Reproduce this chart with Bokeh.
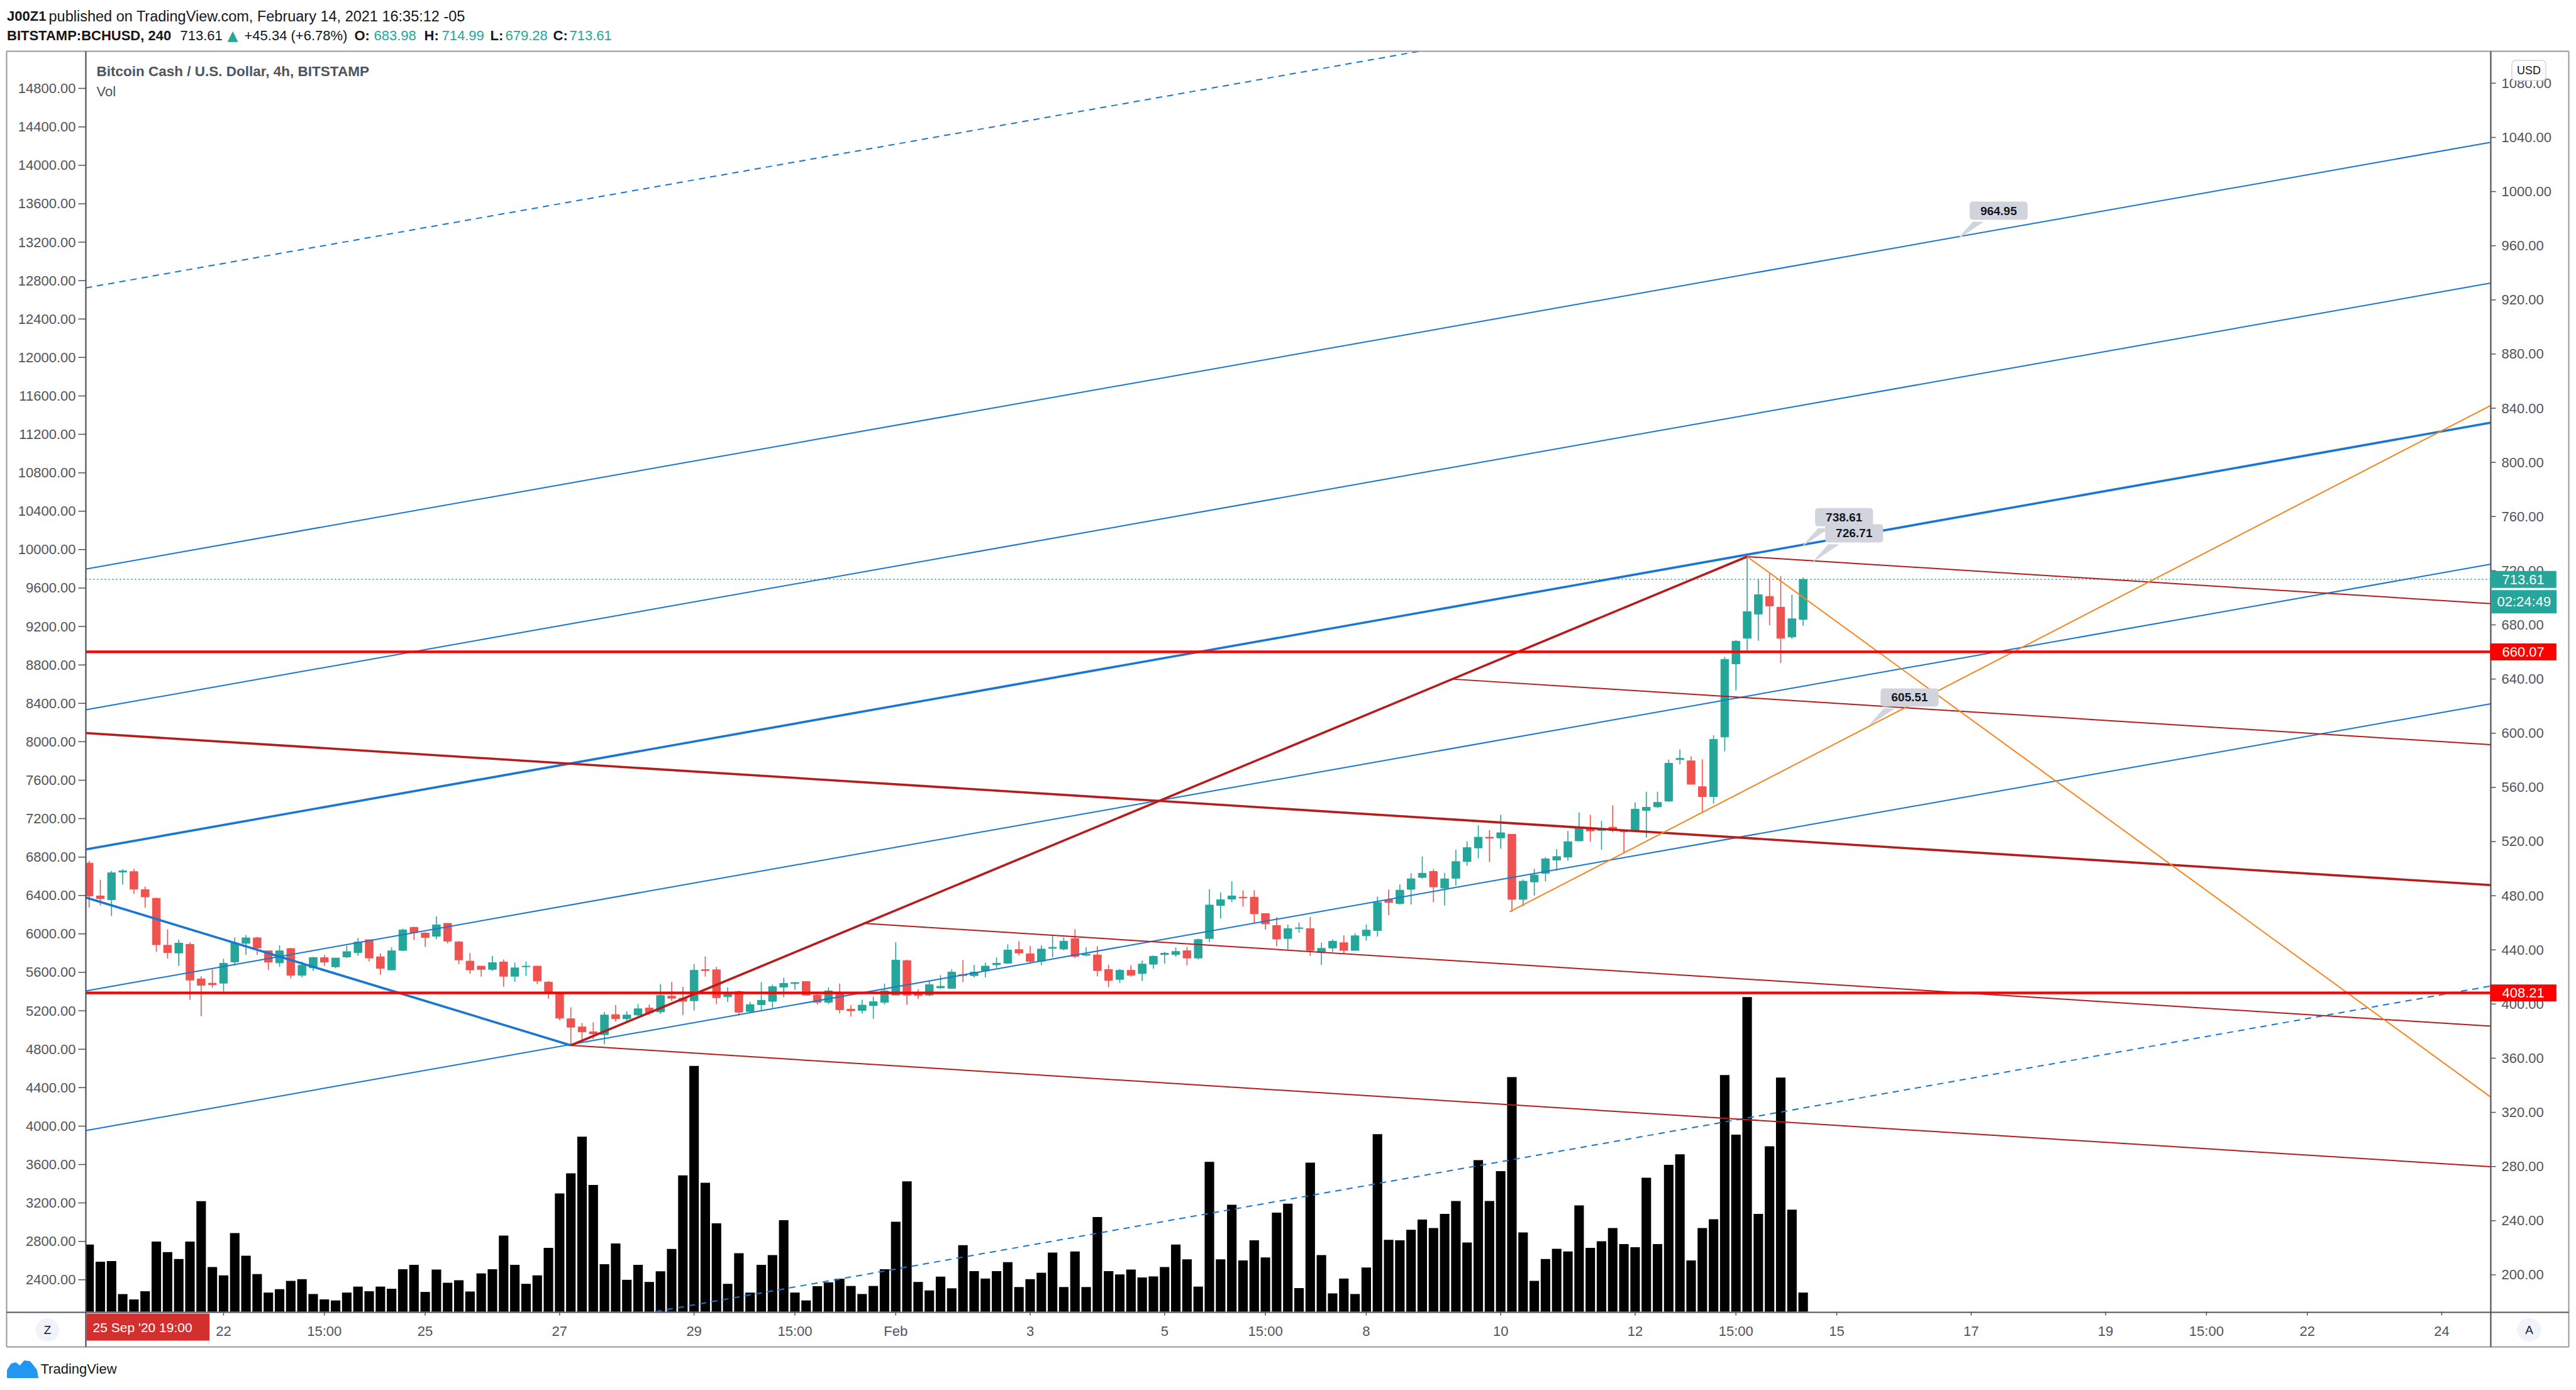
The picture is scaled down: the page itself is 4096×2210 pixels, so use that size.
from bokeh.plotting import figure
from bokeh.models import Range1d, Label
from bokeh.embed import file_html
from bokeh.resources import INLINE
from bokeh.core.properties import value

# ---------------- data (4h bars, BITSTAMP:BCHUSD, Jan 20 - Feb 14 2021) ----------------
opens = [
    504.1, 479.8, 477.0, 497.5, 497.8, 484.5, 478.1, 443.4, 437.7, 444.1,
    418.5, 415.4, 415.4, 431.1, 444.8, 448.9, 439.3, 430.4, 441.0, 421.3,
    426.7, 434.2, 427.5, 434.8, 437.9, 447.5, 434.9, 425.2, 439.6, 456.6,
    452.4, 450.1, 459.6, 445.9, 431.7, 428.0, 425.6, 431.1, 420.5, 427.5,
    428.0, 416.2, 408.0, 389.1, 383.1, 379.5, 377.4, 392.2, 389.1, 391.9,
    397.0, 394.2, 405.8, 404.3, 402.4, 425.4, 425.3, 405.4, 409.2, 394.5,
    399.5, 402.0, 412.5, 415.1, 416.6, 406.6, 401.2, 408.6, 396.2, 395.3,
    398.8, 401.2, 406.6, 432.1, 407.7, 406.6, 412.0, 411.5, 421.8, 421.0,
    424.4, 429.0, 430.1, 440.2, 437.1, 431.7, 441.1, 440.6, 448.4, 436.0,
    436.3, 425.5, 418.2, 424.9, 422.5, 429.4, 436.5, 436.5, 439.4, 434.0,
    448.4, 472.7, 477.5, 478.9, 478.9, 466.8, 458.0, 448.4, 455.8, 455.7,
    438.3, 441.4, 445.3, 439.6, 450.4, 454.3, 477.0, 474.2, 484.7, 493.5,
    497.9, 485.6, 492.9, 505.2, 515.3, 523.2, 522.7, 525.4, 477.3, 490.2,
    496.6, 506.3, 508.5, 520.5, 529.6, 528.2, 530.6, 528.4, 527.8, 542.9,
    545.6, 549.8, 580.5, 579.6, 560.5, 553.2, 597.2, 651.2, 670.1, 688.0,
    701.0, 693.1, 671.1, 683.98]
highs = [
    505.7, 491.8, 498.3, 499.5, 499.8, 486.8, 478.6, 455.1, 447.6, 445.6,
    420.5, 425.5, 433.4, 449.2, 451.0, 449.6, 439.3, 443.4, 441.4, 431.4,
    434.9, 436.3, 434.0, 443.0, 448.9, 447.5, 437.3, 441.9, 455.7, 457.2,
    453.0, 464.7, 459.6, 446.5, 437.6, 428.0, 435.6, 432.9, 430.6, 431.4,
    428.0, 417.0, 409.0, 397.6, 386.0, 386.5, 394.1, 399.2, 394.7, 399.9,
    399.6, 414.8, 416.3, 412.8, 429.6, 435.2, 427.5, 412.3, 410.0, 401.6,
    416.2, 414.3, 419.4, 416.2, 416.6, 407.4, 412.3, 415.1, 399.2, 403.2,
    405.5, 415.1, 445.6, 432.8, 410.9, 417.4, 421.3, 425.6, 432.4, 429.0,
    430.6, 434.4, 444.0, 446.4, 443.0, 443.4, 450.4, 449.2, 455.3, 441.8,
    442.7, 429.0, 426.0, 428.7, 432.1, 436.0, 438.6, 441.8, 442.2, 448.4,
    484.8, 482.4, 490.7, 484.0, 484.0, 467.0, 464.2, 458.7, 460.3, 464.2,
    445.3, 447.6, 450.7, 452.3, 458.8, 479.3, 484.6, 488.3, 496.6, 508.9,
    499.7, 496.9, 514.0, 520.1, 532.0, 528.4, 539.7, 525.4, 492.0, 499.9,
    508.5, 514.4, 527.8, 541.6, 539.7, 535.2, 546.7, 528.8, 548.9, 556.8,
    556.8, 580.5, 587.9, 582.9, 580.7, 598.5, 656.4, 668.8, 730.4, 713.3,
    717.9, 716.1, 702.3, 714.99]
lows = [
    471.2, 472.7, 465.0, 488.2, 481.4, 471.2, 438.6, 433.7, 428.1, 403.2,
    391.1, 412.0, 409.2, 428.3, 436.3, 436.3, 425.2, 427.5, 419.1, 419.8,
    424.4, 428.3, 426.4, 434.0, 435.6, 431.4, 421.6, 425.2, 439.1, 447.3,
    442.2, 447.9, 444.8, 429.4, 422.4, 420.2, 424.4, 412.8, 416.4, 420.8,
    414.8, 404.0, 388.0, 369.5, 373.0, 374.0, 370.3, 387.2, 387.6, 391.1,
    391.9, 392.7, 402.3, 391.9, 395.3, 420.3, 399.9, 401.5, 391.4, 393.1,
    395.0, 397.3, 405.0, 410.5, 406.3, 399.6, 399.9, 393.1, 390.6, 393.0,
    389.2, 399.6, 406.6, 399.3, 403.8, 405.8, 411.2, 411.5, 416.2, 419.7,
    419.7, 426.7, 429.8, 436.0, 429.8, 428.7, 434.5, 439.6, 434.0, 435.2,
    420.5, 412.5, 415.6, 420.2, 417.1, 426.0, 429.8, 434.9, 428.6, 432.9,
    445.8, 463.1, 475.2, 472.0, 460.0, 455.0, 442.6, 440.3, 452.6, 435.5,
    429.0, 438.6, 437.1, 439.6, 446.8, 449.9, 465.6, 473.3, 473.6, 492.6,
    475.1, 472.7, 487.4, 502.1, 507.6, 504.9, 514.6, 468.1, 472.2, 480.1,
    490.5, 498.4, 505.8, 520.1, 519.9, 514.0, 526.9, 511.3, 526.9, 522.9,
    544.9, 549.3, 577.0, 562.3, 541.2, 548.0, 586.6, 631.6, 660.4, 668.3,
    679.7, 651.8, 669.6, 679.28]
closes = [
    479.8, 477.8, 496.9, 498.3, 484.8, 479.1, 443.8, 438.0, 445.0, 417.7,
    413.9, 414.2, 430.1, 445.0, 448.9, 441.4, 430.9, 439.3, 421.3, 428.6,
    434.3, 430.9, 434.0, 438.7, 445.8, 434.0, 426.3, 439.3, 454.7, 452.7,
    449.2, 458.5, 446.5, 432.6, 425.2, 425.6, 430.6, 420.5, 426.7, 428.0,
    417.0, 408.0, 389.6, 382.9, 379.5, 378.0, 391.9, 389.1, 391.9, 396.5,
    393.7, 406.3, 404.3, 402.0, 424.9, 424.7, 404.7, 407.7, 394.0, 399.6,
    402.7, 412.8, 415.3, 415.9, 406.6, 401.2, 409.7, 395.8, 395.0, 399.2,
    401.7, 409.7, 432.4, 406.6, 406.3, 414.3, 413.1, 423.6, 421.0, 423.6,
    428.0, 430.1, 439.9, 437.7, 431.5, 440.6, 441.9, 446.4, 435.2, 436.8,
    424.7, 417.4, 424.9, 421.3, 429.5, 435.2, 437.5, 438.8, 434.0, 447.6,
    473.1, 477.0, 479.8, 478.3, 466.6, 459.2, 448.0, 455.7, 456.3, 439.6,
    441.1, 446.4, 439.6, 450.4, 454.6, 475.0, 475.0, 484.1, 492.5, 496.6,
    486.5, 492.5, 505.2, 515.5, 523.2, 522.5, 526.5, 477.3, 490.7, 495.3,
    507.2, 508.9, 519.9, 529.6, 527.8, 528.8, 528.2, 527.3, 543.9, 545.3,
    548.9, 577.8, 581.4, 562.3, 553.2, 595.4, 654.5, 667.9, 689.8, 702.3,
    694.0, 670.1, 684.5, 713.61]
volumes = [
    106.8, 79.4, 80.5, 28.1, 19.6, 32.5, 111.6, 94.7, 83.8, 111.6,
    175.8, 71.0, 57.8, 125.1, 88.9, 59.8, 30.4, 35.8, 49.0, 51.7,
    28.1, 19.6, 17.9, 30.4, 39.9, 32.5, 39.9, 36.5, 67.6, 74.4,
    31.4, 66.9, 46.0, 50.0, 32.1, 60.9, 67.6, 121.0, 74.4, 44.3,
    57.8, 101.4, 188.0, 220.1, 278.2, 201.5, 75.4, 108.5, 50.7, 74.4,
    47.3, 64.2, 99.7, 216.7, 390.8, 204.9, 140.6, 44.3, 93.0, 30.4,
    74.4, 89.9, 145.4, 30.4, 17.9, 40.6, 46.7, 52.4, 40.9, 28.1,
    40.9, 67.6, 143.0, 207.2, 47.3, 33.8, 55.8, 37.2, 105.8, 64.6,
    52.7, 64.6, 78.8, 39.2, 51.7, 61.9, 94.0, 39.2, 95.7, 39.2,
    150.4, 64.6, 59.2, 66.9, 54.4, 56.1, 71.0, 106.8, 83.2, 39.9,
    238.3, 83.2, 170.0, 81.5, 113.6, 86.2, 157.5, 171.7, 37.5, 237.0,
    89.9, 29.1, 52.7, 28.1, 70.3, 282.3, 114.3, 113.6, 130.2, 146.4,
    132.9, 155.5, 176.1, 109.9, 241.0, 176.1, 223.5, 372.9, 126.1, 49.0,
    83.8, 100.1, 95.7, 169.0, 101.4, 111.9, 132.9, 107.5, 102.4, 213.0,
    107.5, 233.6, 250.2, 81.5, 132.9, 147.1, 376.3, 281.6, 500.3, 155.5,
    263.0, 372.2, 162.3, 30.4]

# time axis (bar index -> label)
time_tick_bars = [12, 21, 30, 42, 54, 63, 72, 84, 96, 105, 114, 126, 138, 147, 156, 168, 180, 189, 198, 210]
time_tick_labels = ["22", "15:00", "25", "27", "29", "15:00", "Feb", "3", "5", "15:00",
                    "8", "10", "12", "15:00", "15", "17", "19", "15:00", "22", "24"]
price_ticks = list(range(200, 1081, 40))
left_ticks = list(range(2400, 14801, 400))

# drawings
channel_slope = 1.468                     # price per bar
channel_levels = [929.3, 721.7, 617.7, 514.6, 410.1, 307.0, 98.6]   # price at bar 0
down_line = ([-1, 43], [480.4, 369.5])
rise_line = ([43, 148], [369.5, 730.4])
red_slope = -0.523
red_anchor_x = [43, 69.3, 95.5, 121.6, 148]
red_anchor_p = [369.5, 459.5, 550.0, 640.0, 730.4]
orange_x = [148, 126.8]
orange_p = [730.4, 468.1]
orange_slope = [-6.013, 4.27]
hlevels = [660.07, 408.21]
callout_x = [166.8, 153.0, 153.9, 158.85]
callout_p = [964.95, 738.61, 726.71, 605.51]

# ---------------- styling / geometry ----------------
GREEN = "#26a69a"
RED = "#ef5350"
BLUE = "#1976d2"
DRED = "#b71c1c"
ORANGE = "#f7841d"
HRED = "#ff0000"
INK = "#131722"
AXC = "#50535e"
FONT = "Liberation Sans"

n = min(len(opens), len(highs), len(lows), len(closes), len(volumes))
bars = list(range(n))

CW, CH = 4090, 2200                  # canvas
AL, AR, AT, AB = 136, 3960, 81, 2085  # price pane in canvas px
X0, X1 = -0.292, 214.38              # visible bar range
P0, P1 = 172.8, 1103.6               # visible price range
L0, L1 = 2068.0, 15187.0             # left scale range
PXB = (AR - AL) / (X1 - X0)
PXP = (AB - AT) / (P1 - P0)
PXL = (AB - AT) / (L1 - L0)


def bx(px):
    return X0 + (px - AL) / PXB


def pp(py):
    return P0 + (AB - py) / PXP


def lp(py):
    return L0 + (AB - py) / PXL


def vp(py):
    return AB - py


p = figure(width=CW, height=CH, output_backend="svg", toolbar_location=None,
           x_range=Range1d(bx(0), bx(CW)), y_range=Range1d(pp(CH), pp(0)),
           x_axis_type=None, y_axis_type=None, min_border=0,
           min_border_left=0, min_border_right=0, min_border_top=0, min_border_bottom=0,
           background_fill_color="white", border_fill_color="white", outline_line_color=None)
p.extra_y_ranges = {"left": Range1d(lp(CH), lp(0)), "vol": Range1d(vp(CH), vp(0))}
p.xgrid.visible = False
p.ygrid.visible = False


def clip(xa, ya, xb, yb):
    dx, dy = xb - xa, yb - ya
    t0, t1 = 0.0, 1.0
    for q1, q2 in ((-dx, xa - X0), (dx, X1 - xa), (-dy, ya - P0), (dy, P1 - ya)):
        if q1 == 0:
            if q2 < 0:
                return None
        else:
            t = q2 / q1
            if q1 < 0:
                t0 = max(t0, t)
            else:
                t1 = min(t1, t)
    if t0 > t1:
        return None
    return [xa + t0 * dx, xa + t1 * dx], [ya + t0 * dy, ya + t1 * dy]


def draw(xa, ya, xb, yb, **kw):
    c = clip(xa, ya, xb, yb)
    if c:
        p.line(x=c[0], y=c[1], **kw)


def text(xs, ys, txt, size="22px", color=AXC, align="left", baseline="middle",
         style="normal", font=FONT, rng="default"):
    p.text(x=xs, y=ys, text=txt, text_font=value(font), text_font_size=size,
           text_color=color, text_align=align, text_baseline=baseline,
           text_font_style=style, y_range_name=rng)


# ---------------- volume ----------------
p.quad(left=[max(i - 0.425, X0) for i in bars], right=[i + 0.425 for i in bars],
       top=volumes[:n], bottom=[0] * n, y_range_name="vol",
       fill_color="black", line_color=None)

# ---------------- candles ----------------
cols = [GREEN if closes[i] >= opens[i] else RED for i in bars]
p.segment(x0=bars, y0=lows[:n], x1=bars, y1=highs[:n], line_color=cols, line_width=1.6)
p.quad(left=[max(i - 0.35, X0) for i in bars], right=[i + 0.35 for i in bars],
       bottom=[min(opens[i], closes[i]) for i in bars],
       top=[max(opens[i], closes[i]) for i in bars],
       fill_color=cols, line_color=cols, line_width=1)

# ---------------- drawings ----------------
XE = 260
draw(X0, closes[n - 1], X1, closes[n - 1], line_color=GREEN, line_width=1.6, line_dash="2 4")
for k, lvl in enumerate(channel_levels):
    dashed = k in (0, len(channel_levels) - 1)
    thick = k == 3
    draw(-40, lvl - 40 * channel_slope, XE, lvl + channel_slope * XE,
         line_color=BLUE, line_width=3.6 if thick else 2.0,
         line_dash="10 8" if dashed else "solid")
draw(down_line[0][0], down_line[1][0], down_line[0][1], down_line[1][1],
     line_color=BLUE, line_width=3.6)
for k, (ax_, ap_) in enumerate(zip(red_anchor_x, red_anchor_p)):
    xs = [-40, XE] if k == 2 else [ax_, XE]
    draw(xs[0], ap_ + red_slope * (xs[0] - ax_), xs[1], ap_ + red_slope * (xs[1] - ax_),
         line_color=DRED, line_width=3.6 if k == 2 else 2.0)
draw(rise_line[0][0], rise_line[1][0], rise_line[0][1], rise_line[1][1],
     line_color=DRED, line_width=3.6)
for ox, op, osl in zip(orange_x, orange_p, orange_slope):
    draw(ox, op, XE, op + osl * (XE - ox), line_color=ORANGE, line_width=2.0)
for lv in hlevels:
    draw(X0, lv, X1, lv, line_color=HRED, line_width=4.2)

# callout price labels
CALL = "#d1d4dc"
tx, ty = [], []
for cx, cpv in zip(callout_x, callout_p):
    tx.append([cx, cx + 24 / PXB, cx + 40 / PXB])
    ty.append([cpv, cpv + 27 / PXP, cpv + 27 / PXP])
p.patches(xs=tx, ys=ty, fill_color=CALL, line_color=CALL, line_width=1)
for cx, cpv in zip(callout_x, callout_p):
    p.add_layout(Label(x=cx, y=cpv, x_offset=65, y_offset=45, text=f"{cpv:.2f}",
                       text_align="center", text_baseline="middle", text_font=FONT,
                       text_font_style="bold", text_font_size="19px", text_color=INK,
                       background_fill_color=CALL, border_radius=5,
                       padding=dict(left=17, right=17, top=8, bottom=8)))

# ---------------- axes (drawn on the canvas) ----------------
# right price scale
p.segment(x0=[bx(AR)] * len(price_ticks), y0=price_ticks, x1=[bx(AR + 8)] * len(price_ticks),
          y1=price_ticks, line_color=AXC, line_width=1.5)
text([bx(3977)] * len(price_ticks), price_ticks, [f"{t:.2f}" for t in price_ticks])
# left scale
p.segment(x0=[bx(124)] * len(left_ticks), y0=left_ticks, x1=[bx(AL)] * len(left_ticks),
          y1=left_ticks, line_color=AXC, line_width=1.5, y_range_name="left")
text([bx(120)] * len(left_ticks), left_ticks, [f"{t:.2f}" for t in left_ticks],
     align="right", rng="left")
# time scale
p.segment(x0=time_tick_bars, y0=[pp(AB)] * len(time_tick_bars), x1=time_tick_bars,
          y1=[pp(AB + 6)] * len(time_tick_bars), line_color=AXC, line_width=1.5)
text(time_tick_bars, [pp(2116)] * len(time_tick_bars), time_tick_labels, align="center")

# pane / frame lines
p.segment(x0=[bx(10), bx(10), bx(4084), bx(10), bx(10)],
          y0=[pp(81), pp(2141), pp(81), pp(81), pp(2141)],
          x1=[bx(4084), bx(4084), bx(4084), bx(10), bx(10)],
          y1=[pp(81), pp(2141), pp(2141), pp(2141), pp(2141)],
          line_color="#9598a1", line_width=2)
p.segment(x0=[bx(AL), bx(AR), bx(10)], y0=[pp(AT), pp(AT), pp(AB + 1)],
          x1=[bx(AL), bx(AR), bx(4084)], y1=[pp(2141), pp(2141), pp(AB + 1)],
          line_color=AXC, line_width=2.2)

# ---------------- texts ----------------
def SX(X):
    return X


def SY(Y):
    return CH - Y


p.add_layout(Label(x=SX(153), y=SY(113), x_units="screen", y_units="screen",
                   text="Bitcoin Cash / U.S. Dollar, 4h, BITSTAMP", text_baseline="middle",
                   text_font=FONT, text_font_size="22.5px", text_font_style="bold", text_color=AXC))
p.add_layout(Label(x=SX(153), y=SY(145), x_units="screen", y_units="screen",
                   text="Vol", text_baseline="middle",
                   text_font=FONT, text_font_size="22px", text_color=AXC))

# price tags on right scale
tags = [(f"{closes[n - 1]:.2f}", closes[n - 1], GREEN, 0, 3959, 19),
        ("02:24:49", closes[n - 1], GREEN, -35.5, 3961, 9),
        (f"{hlevels[0]:.2f}", hlevels[0], HRED, 0, 3959, 19),
        (f"{hlevels[1]:.2f}", hlevels[1], HRED, 0, 3959, 19)]
for txt, pv, col, off, xl, padl in tags:
    p.add_layout(Label(x=SX(xl), y=pv, x_units="screen", y_units="data", y_offset=off,
                       text=txt, text_align="left", text_baseline="middle",
                       text_font=FONT, text_font_size="22px", text_color="white",
                       background_fill_color=col,
                       padding=dict(left=padl, right=padl, top=6, bottom=6)))

p.add_layout(Label(x=SX(4020.5), y=SY(111.5), x_units="screen", y_units="screen",
                   text="USD", text_align="center", text_baseline="middle",
                   text_font=FONT, text_font_size="18px", text_color=INK,
                   background_fill_color="white", border_line_color=CALL, border_line_width=1.5,
                   border_radius=6, padding=dict(left=8, right=8, top=6, bottom=6)))

# header
p.add_layout(Label(x=SX(10.5), y=SY(25), x_units="screen", y_units="screen", text="J00Z1",
                   text_baseline="middle", text_font=FONT, text_font_size="22px",
                   text_font_style="bold", text_color=INK))
p.add_layout(Label(x=SX(77), y=SY(25), x_units="screen", y_units="screen",
                   text="published on TradingView.com, February 14, 2021 16:35:12 -05",
                   text_baseline="middle", text_font=FONT, text_font_size="23.5px", text_color=INK))
line2 = [("BITSTAMP:BCHUSD, 240", 10.5, "bold", INK, FONT),
         (f"{closes[n - 1]:.2f}", 286, "normal", INK, FONT),
         ("\u25b2", 361, "normal", GREEN, "DejaVu Sans"),
         ("+45.34 (+6.78%)", 388, "normal", INK, FONT),
         ("O:", 563, "bold", INK, FONT), (f"{opens[n - 1]:.2f}", 594, "normal", GREEN, FONT),
         ("H:", 674, "bold", INK, FONT), (f"{highs[n - 1]:.2f}", 702, "normal", GREEN, FONT),
         ("L:", 779, "bold", INK, FONT), (f"{lows[n - 1]:.2f}", 803, "normal", GREEN, FONT),
         ("C:", 879, "bold", INK, FONT), (f"{closes[n - 1]:.2f}", 905, "normal", GREEN, FONT)]
for txt, xl, st, col, fnt in line2:
    p.add_layout(Label(x=SX(xl), y=SY(56), x_units="screen", y_units="screen", text=txt,
                       text_baseline="middle", text_font=fnt, text_font_size="22px",
                       text_font_style=st, text_color=col))

# bottom row: crosshair date tag, Z / A buttons
p.add_layout(Label(x=SX(137), y=SY(2109.5), x_units="screen", y_units="screen",
                   text="25 Sep '20    19:00", text_baseline="middle", text_font=FONT,
                   text_font_size="21px", text_color="white", background_fill_color="#d32f2f",
                   padding=dict(left=10, right=10, top=10, bottom=10)))
for letter, xc in (("Z", 75), ("A", 4021)):
    p.add_layout(Label(x=SX(xc), y=SY(2114), x_units="screen", y_units="screen", text=letter,
                       text_align="center", text_baseline="middle", text_font=FONT,
                       text_font_size="19px", text_color=INK, background_fill_color="#f0f3fa",
                       border_radius=19, padding=dict(left=13, right=13, top=8, bottom=8)))

# footer logo + brand
logo_px = [11, 11, 17, 25, 31, 38, 47, 53, 58, 60]
logo_py = [2190, 2178, 2168, 2166, 2171, 2163, 2164, 2171, 2178, 2190]
p.patch(x=[bx(a) for a in logo_px], y=[pp(b) for b in logo_py],
        fill_color="#2196f3", line_color="#2196f3")
p.add_layout(Label(x=SX(64), y=SY(2176), x_units="screen", y_units="screen", text="TradingView",
                   text_baseline="middle", text_font=FONT, text_font_size="22px", text_color=INK))

open("out.html", "w").write(file_html(p, INLINE))
